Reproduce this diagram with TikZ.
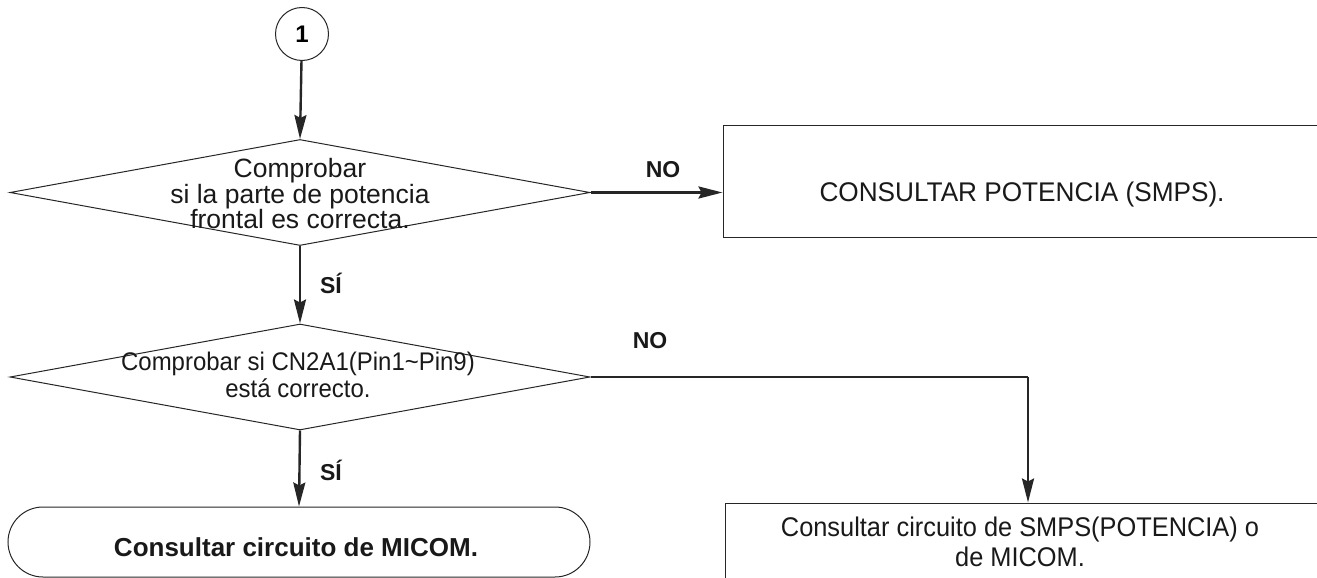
\documentclass[tikz,border=0pt]{standalone}
\usepackage{fontspec}
\setmainfont{Liberation Sans}
\newfontfamily\narrowfont[FakeStretch=0.94]{Liberation Sans}
\newfontfamily\semifont[FakeStretch=0.97]{Liberation Sans}
\usetikzlibrary{shapes.geometric,shapes.misc,arrows.meta}

\tikzset{
  outline/.style={draw=black!85, line width=1pt},
  decision/.style={outline, diamond, minimum width=580pt, minimum height=106pt, inner sep=0pt},
  process/.style={outline, rectangle, inner sep=0pt},
  terminal/.style={outline, rounded rectangle, minimum width=582pt, minimum height=70pt, inner sep=0pt},
  bodytext/.style={align=center, inner sep=0pt, text=black!90},
  answer/.style={font=\bfseries\fontsize{23}{25}\selectfont, inner sep=0pt, text=black!90},
  flow/.style={draw=black!85, line width=2.4pt, -{Stealth[length=24pt,width=12pt,inset=3pt]}},
  flowline/.style={draw=black!85, line width=2.4pt}
}

\begin{document}
\begin{tikzpicture}[x=1pt,y=-1pt]
  \useasboundingbox (0,0) rectangle (1317,578);
  \clip (0,0) rectangle (1317,578);

  % connector mark
  \node[outline, circle, minimum size=53pt, inner sep=0pt,
        font=\bfseries\fontsize{24}{26}\selectfont] (start) at (302,34) {1};

  % first check
  \node[decision] (d1) at (300,192.5) {};
  \node[bodytext, font=\fontsize{26.5}{25.5}\selectfont] (d1t) at (300,194)
    {Comprobar\\si la parte de potencia\\frontal es correcta.};

  % power supply box
  \node[process, minimum width=597pt, minimum height=112pt] (p1) at (1021.5,181) {};
  \node[bodytext, font=\semifont\fontsize{27}{28}\selectfont] (p1t) at (1022,195)
    {CONSULTAR POTENCIA (SMPS).};

  % second check
  \node[decision] (d2) at (300,377) {};
  \node[bodytext, font=\narrowfont\fontsize{25.5}{27}\selectfont] (d2t) at (298,375)
    {Comprobar si CN2A1(Pin1\textasciitilde Pin9)\\está correcto.};

  % end boxes
  \node[terminal] (t1) at (299,542) {};
  \node[bodytext, font=\bfseries\fontsize{26}{28}\selectfont] (t1t) at (296,547)
    {Consultar circuito de MICOM.};

  \node[process, minimum width=595pt, minimum height=120pt] (p2) at (1022.5,563) {};
  \node[bodytext, font=\narrowfont\fontsize{27}{30}\selectfont] (p2t) at (1020,542)
    {Consultar circuito de SMPS(POTENCIA) o\\de MICOM.};

  % connectors
  \draw[flow] (start) -- (d1.north);
  \draw[flow] (d1.east) -- (d1.east -| p1.west);
  \draw[flow] (d1.south) -- (d2.north);
  \draw[flow] (d2.south) -- (t1.north);
  \coordinate (turn) at (1028,377);
  \draw[flowline] (d2.east) -- (turn);
  \draw[flow] (turn) -- (turn |- p2.north);

  % branch labels
  \node[answer] (no1) at (663,170) {NO};
  \node[answer] (si1) at (331,283) {SÍ};
  \node[answer] (no2) at (650,341) {NO};
  \node[answer] (si2) at (331,470) {SÍ};
\end{tikzpicture}
\end{document}
